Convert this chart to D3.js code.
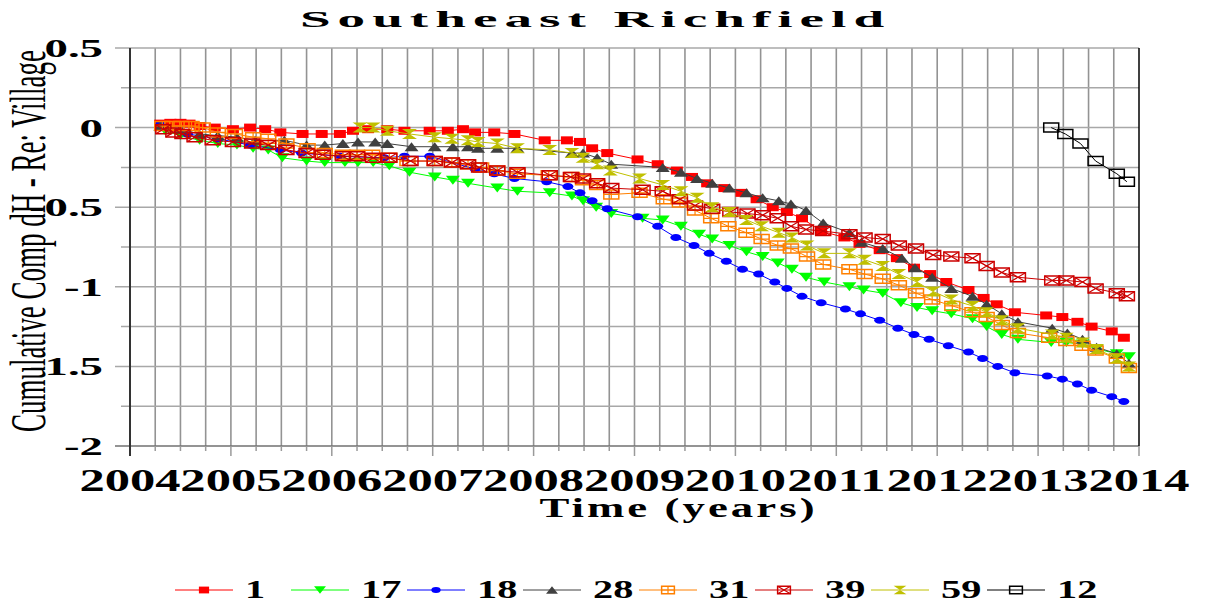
<!DOCTYPE html>
<html>
<head>
<meta charset="utf-8">
<title>Southeast Richfield</title>
<style>
  body { margin: 0; background: #fff; }
  text { font-family: "Liberation Serif", "Times New Roman", serif; }
</style>
</head>
<body>
<script src="https://cdn.jsdelivr.net/npm/d3@7"></script>
<script>
// series data: [year, cumulative dH]
var s1 = [[2004.30,0.025],[2004.40,0.03],[2004.50,0.03],[2004.59,0.025],[2004.69,0.01],[2004.84,0.0],[2005.02,-0.01],[2005.19,0.0],[2005.34,-0.01],[2005.49,-0.03],[2005.71,-0.04],[2005.90,-0.04],[2006.08,-0.04],[2006.21,-0.02],[2006.36,-0.01],[2006.55,-0.01],[2006.72,-0.02],[2006.97,-0.02],[2007.15,-0.02],[2007.30,-0.01],[2007.42,-0.03],[2007.61,-0.03],[2007.81,-0.04],[2008.11,-0.08],[2008.33,-0.08],[2008.46,-0.09],[2008.58,-0.13],[2008.73,-0.16],[2009.03,-0.20],[2009.23,-0.23],[2009.42,-0.27],[2009.57,-0.31],[2009.72,-0.35],[2009.89,-0.38],[2010.06,-0.41],[2010.21,-0.45],[2010.37,-0.50],[2010.51,-0.53],[2010.66,-0.57],[2010.85,-0.65],[2011.08,-0.69],[2011.23,-0.73],[2011.43,-0.77],[2011.60,-0.82],[2011.77,-0.88],[2011.93,-0.92],[2012.09,-0.97],[2012.31,-1.02],[2012.46,-1.07],[2012.59,-1.11],[2012.77,-1.16],[2013.08,-1.18],[2013.24,-1.19],[2013.39,-1.22],[2013.53,-1.25],[2013.73,-1.28],[2013.85,-1.32]];
var s17 = [[2004.35,-0.02],[2004.50,-0.05],[2004.69,-0.08],[2004.87,-0.10],[2005.06,-0.11],[2005.22,-0.13],[2005.37,-0.14],[2005.51,-0.19],[2005.75,-0.21],[2005.93,-0.22],[2006.13,-0.22],[2006.26,-0.22],[2006.41,-0.22],[2006.57,-0.24],[2006.77,-0.28],[2007.02,-0.31],[2007.20,-0.33],[2007.35,-0.35],[2007.64,-0.38],[2007.84,-0.40],[2008.16,-0.41],[2008.38,-0.43],[2008.49,-0.46],[2008.62,-0.50],[2008.77,-0.54],[2009.08,-0.57],[2009.28,-0.58],[2009.46,-0.62],[2009.64,-0.67],[2009.77,-0.70],[2009.94,-0.74],[2010.11,-0.78],[2010.27,-0.81],[2010.42,-0.85],[2010.56,-0.89],[2010.70,-0.94],[2010.88,-0.97],[2011.13,-1.00],[2011.27,-1.02],[2011.46,-1.04],[2011.64,-1.10],[2011.80,-1.13],[2011.95,-1.15],[2012.14,-1.17],[2012.35,-1.20],[2012.49,-1.25],[2012.64,-1.30],[2012.80,-1.33],[2013.13,-1.35],[2013.28,-1.35],[2013.44,-1.36],[2013.58,-1.39],[2013.78,-1.42],[2013.90,-1.44]];
var s18 = [[2004.30,0.02],[2004.57,-0.04],[2004.87,-0.07],[2005.19,-0.11],[2005.49,-0.14],[2005.70,-0.16],[2006.08,-0.18],[2006.52,-0.19],[2006.72,-0.18],[2006.97,-0.18],[2007.42,-0.26],[2007.61,-0.29],[2007.81,-0.32],[2008.13,-0.34],[2008.34,-0.37],[2008.46,-0.41],[2008.58,-0.46],[2008.73,-0.51],[2009.03,-0.56],[2009.23,-0.62],[2009.41,-0.69],[2009.59,-0.74],[2009.74,-0.79],[2009.91,-0.84],[2010.07,-0.89],[2010.23,-0.92],[2010.39,-0.97],[2010.51,-1.01],[2010.66,-1.06],[2010.85,-1.10],[2011.09,-1.14],[2011.24,-1.17],[2011.43,-1.21],[2011.61,-1.26],[2011.77,-1.30],[2011.92,-1.33],[2012.11,-1.37],[2012.31,-1.41],[2012.45,-1.45],[2012.60,-1.50],[2012.77,-1.54],[2013.09,-1.56],[2013.24,-1.58],[2013.39,-1.61],[2013.53,-1.65],[2013.73,-1.69],[2013.85,-1.72]];
var s28 = [[2004.30,0.01],[2004.50,-0.01],[2004.69,-0.04],[2004.87,-0.05],[2005.06,-0.06],[2005.24,-0.08],[2005.53,-0.08],[2005.75,-0.11],[2005.93,-0.11],[2006.11,-0.10],[2006.26,-0.09],[2006.43,-0.09],[2006.55,-0.10],[2006.79,-0.12],[2007.02,-0.12],[2007.20,-0.12],[2007.35,-0.12],[2007.45,-0.13],[2007.64,-0.13],[2007.84,-0.13],[2008.38,-0.16],[2008.49,-0.16],[2008.63,-0.19],[2008.77,-0.23],[2009.28,-0.25],[2009.46,-0.28],[2009.62,-0.32],[2009.77,-0.35],[2009.94,-0.38],[2010.11,-0.41],[2010.27,-0.44],[2010.43,-0.46],[2010.55,-0.48],[2010.70,-0.52],[2010.87,-0.60],[2011.13,-0.66],[2011.25,-0.72],[2011.46,-0.76],[2011.65,-0.82],[2011.78,-0.88],[2011.95,-0.94],[2012.14,-1.01],[2012.35,-1.06],[2012.49,-1.11],[2012.64,-1.17],[2012.80,-1.22],[2013.14,-1.26],[2013.29,-1.29],[2013.44,-1.33],[2013.58,-1.38],[2013.78,-1.42],[2013.90,-1.48]];
var s31 = [[2004.32,0.01],[2004.42,0.01],[2004.51,0.01],[2004.61,0.01],[2004.72,0.0],[2004.87,-0.03],[2005.04,-0.04],[2005.22,-0.06],[2005.37,-0.07],[2005.55,-0.10],[2005.76,-0.13],[2005.93,-0.16],[2006.11,-0.17],[2006.25,-0.17],[2006.40,-0.17],[2006.57,-0.19],[2006.75,-0.21],[2007.02,-0.21],[2007.19,-0.22],[2007.35,-0.23],[2007.48,-0.25],[2007.64,-0.27],[2007.84,-0.29],[2008.15,-0.30],[2008.38,-0.31],[2008.49,-0.33],[2008.63,-0.36],[2008.77,-0.42],[2009.05,-0.41],[2009.29,-0.45],[2009.45,-0.47],[2009.60,-0.52],[2009.76,-0.57],[2009.93,-0.62],[2010.11,-0.66],[2010.26,-0.70],[2010.42,-0.74],[2010.55,-0.76],[2010.71,-0.81],[2010.87,-0.86],[2011.13,-0.89],[2011.28,-0.92],[2011.46,-0.95],[2011.62,-0.99],[2011.79,-1.04],[2011.95,-1.08],[2012.15,-1.12],[2012.35,-1.16],[2012.49,-1.19],[2012.64,-1.24],[2012.80,-1.29],[2013.11,-1.32],[2013.28,-1.34],[2013.44,-1.37],[2013.57,-1.40],[2013.78,-1.45],[2013.90,-1.51]];
var s39 = [[2004.33,-0.01],[2004.43,-0.03],[2004.52,-0.04],[2004.64,-0.06],[2004.82,-0.08],[2005.02,-0.09],[2005.21,-0.10],[2005.37,-0.11],[2005.55,-0.14],[2005.75,-0.16],[2005.91,-0.17],[2006.11,-0.18],[2006.25,-0.18],[2006.41,-0.19],[2006.57,-0.19],[2006.78,-0.21],[2007.02,-0.21],[2007.19,-0.22],[2007.35,-0.23],[2007.46,-0.25],[2007.64,-0.27],[2007.84,-0.28],[2008.16,-0.30],[2008.37,-0.31],[2008.49,-0.32],[2008.63,-0.35],[2008.77,-0.38],[2009.08,-0.39],[2009.28,-0.40],[2009.45,-0.45],[2009.60,-0.49],[2009.77,-0.51],[2009.95,-0.53],[2010.12,-0.54],[2010.27,-0.55],[2010.42,-0.57],[2010.55,-0.62],[2010.70,-0.64],[2010.87,-0.65],[2011.13,-0.67],[2011.28,-0.69],[2011.46,-0.70],[2011.62,-0.74],[2011.79,-0.76],[2011.96,-0.80],[2012.14,-0.81],[2012.35,-0.82],[2012.49,-0.87],[2012.64,-0.91],[2012.80,-0.94],[2013.14,-0.96],[2013.28,-0.96],[2013.44,-0.97],[2013.57,-1.01],[2013.78,-1.04],[2013.88,-1.06]];
var s59 = [[2006.28,0.0],[2006.41,0.0],[2006.55,-0.02],[2006.77,-0.04],[2007.02,-0.06],[2007.19,-0.07],[2007.35,-0.08],[2007.45,-0.09],[2007.64,-0.10],[2007.84,-0.13],[2008.16,-0.14],[2008.38,-0.16],[2008.49,-0.19],[2008.63,-0.23],[2008.76,-0.27],[2009.05,-0.32],[2009.28,-0.36],[2009.46,-0.40],[2009.62,-0.44],[2009.77,-0.50],[2009.94,-0.53],[2010.11,-0.58],[2010.26,-0.62],[2010.43,-0.66],[2010.56,-0.69],[2010.71,-0.74],[2010.88,-0.79],[2011.13,-0.79],[2011.28,-0.83],[2011.46,-0.87],[2011.62,-0.92],[2011.80,-0.97],[2011.96,-1.03],[2012.14,-1.08],[2012.35,-1.12],[2012.49,-1.16],[2012.64,-1.21],[2012.80,-1.26],[2013.14,-1.30],[2013.28,-1.32],[2013.44,-1.35],[2013.58,-1.39],[2013.78,-1.45],[2013.90,-1.50]];
var s12 = [[2013.13,0.0],[2013.27,-0.04],[2013.42,-0.10],[2013.57,-0.21],[2013.78,-0.29],[2013.88,-0.34]];

var names = ["1", "17", "18", "28", "31", "39", "59", "12"];
var seriesData = [s1, s17, s18, s28, s31, s39, s59, s12];
var colors = ["#FF0000", "#00FF00", "#0000FF", "#404040", "#FF8000", "#CC0000", "#C0C000", "#000000"];
var shapes = ["square", "triDown", "circle", "triUp", "boxPlus", "boxX", "hourglass", "box"];
var xTicks = [2004, 2005, 2006, 2007, 2008, 2009, 2010, 2011, 2012, 2013, 2014];
var yTicks = [0.5, 0, -0.5, -1, -1.5, -2];

var W = 1212, H = 606;
var svg = d3.select("body").append("svg").attr("width", W).attr("height", H);

var x = d3.scaleLinear().domain([2004, 2014]).range([130, 1139]);
var y = d3.scaleLinear().domain([-2, 0.5]).range([446, 48]);

// grid
var grid = svg.append("g");
grid.selectAll(".vg").data(d3.range(2004.25, 2014, 0.25)).enter().append("line")
  .attr("x1", function(d) { return x(d); }).attr("x2", function(d) { return x(d); })
  .attr("y1", y(0.5)).attr("y2", y(-2))
  .attr("stroke", "#939393").attr("stroke-width", 1.6);
grid.selectAll(".hg").data(d3.range(-1.75, 0.75, 0.25)).enter().append("line")
  .attr("x1", function(d) { return (Math.abs(d * 2 - Math.round(d * 2)) < 1e-6) ? 115 : 121; })
  .attr("x2", x(2014))
  .attr("y1", function(d) { return y(d); }).attr("y2", function(d) { return y(d); })
  .attr("stroke", "#a8a8a8").attr("stroke-width", 1.5);

// x axis with minor ticks
var xAxisG = svg.append("g").attr("transform", "translate(0," + y(-2) + ")");
xAxisG.append("line").attr("x1", 115).attr("x2", x(2014)).attr("stroke", "#707070").attr("stroke-width", 1.5);
xAxisG.selectAll(".tk").data(d3.range(2004, 2014.01, 0.25)).enter().append("line")
  .attr("x1", function(d) { return x(d); }).attr("x2", function(d) { return x(d); })
  .attr("y1", 0).attr("y2", function(d) { return Math.abs(d - Math.round(d)) < 1e-6 ? 10 : 5; })
  .attr("stroke", "#9a9a9a").attr("stroke-width", 1.5);
xAxisG.selectAll(".lbl").data(xTicks).enter().append("text")
  .attr("transform", function(d) { return "translate(" + x(d) + ",45) scale(1.58,1)"; })
  .attr("text-anchor", "middle").attr("font-size", 32).attr("font-weight", "bold")
  .text(function(d) { return d; });

// y axis
svg.append("line").attr("x1", x(2004)).attr("x2", x(2004)).attr("y1", y(0.5)).attr("y2", y(-2) + 10)
  .attr("stroke", "#333").attr("stroke-width", 2);
svg.append("line").attr("x1", x(2014)).attr("x2", x(2014)).attr("y1", y(0.5)).attr("y2", y(-2))
  .attr("stroke", "#000").attr("stroke-width", 1.5);
svg.selectAll(".ylbl").data(yTicks).enter().append("text")
  .attr("transform", function(d) { return "translate(103," + (y(d) + 9) + ") scale(1.8,1)"; })
  .attr("text-anchor", "end").attr("font-size", 26).attr("font-weight", "bold")
  .text(function(d) { return d; });

// marker shapes
function markerPath(shape, w, h) {
  var a = w / 2, b = h / 2;
  switch (shape) {
    case "square": case "box": case "boxPlus": case "boxX":
      return "M" + (-a) + "," + (-b) + "H" + a + "V" + b + "H" + (-a) + "Z";
    case "triDown": return "M" + (-a) + "," + (-b) + "L" + a + "," + (-b) + "L0," + b + "Z";
    case "triUp": return "M" + (-a) + "," + b + "L" + a + "," + b + "L0," + (-b) + "Z";
    case "hourglass": return "M" + (-a) + "," + (-b) + "L" + a + "," + (-b) + "L" + (-a) + "," + b + "L" + a + "," + b + "Z";
  }
  return "";
}
function drawMarker(g, shape, color, w, h) {
  if (shape === "circle") {
    g.append("ellipse").attr("rx", w / 2).attr("ry", h / 2).attr("fill", color);
    return;
  }
  var filled = (shape === "square" || shape === "triDown" || shape === "triUp" || shape === "hourglass");
  g.append("path").attr("d", markerPath(shape, w, h))
    .attr("fill", filled ? color : "none")
    .attr("stroke", filled ? "none" : color).attr("stroke-width", 1.5);
  var a = w / 2, b = h / 2;
  if (shape === "boxPlus")
    g.append("path").attr("d", "M0," + (-b) + "V" + b + "M" + (-a) + ",0H" + a)
      .attr("stroke", color).attr("stroke-width", 1.2).attr("fill", "none");
  if (shape === "boxX")
    g.append("path").attr("d", "M" + (-a) + "," + (-b) + "L" + a + "," + b + "M" + (-a) + "," + b + "L" + a + "," + (-b))
      .attr("stroke", color).attr("stroke-width", 1.2).attr("fill", "none");
}
var sizes = { square: [12, 8], triDown: [14, 9], circle: [11, 7], triUp: [14, 9], boxPlus: [15, 9], boxX: [15, 9], hourglass: [15, 10], box: [15, 9] };

var line = d3.line().x(function(d) { return x(d[0]); }).y(function(d) { return y(d[1]); });

var plot = svg.append("g");
seriesData.forEach(function(data, i) {
  var g = plot.append("g");
  g.append("path").datum(data).attr("d", line)
    .attr("fill", "none").attr("stroke", colors[i]).attr("stroke-width", 1);
  g.selectAll("g.pt").data(data).enter().append("g")
    .attr("transform", function(d) { return "translate(" + x(d[0]) + "," + y(d[1]) + ")"; })
    .each(function() {
      drawMarker(d3.select(this), shapes[i], colors[i], sizes[shapes[i]][0], sizes[shapes[i]][1]);
    });
});

// titles
svg.append("text").attr("transform", "translate(592,27) scale(2.3,1)")
  .attr("text-anchor", "middle").attr("font-size", 24).attr("font-weight", "bold")
  .attr("textLength", 254).attr("lengthAdjust", "spacing")
  .text("Southeast Richfield");
svg.append("text").attr("transform", "translate(677,517) scale(1.6,1)")
  .attr("text-anchor", "middle").attr("font-size", 28).attr("font-weight", "bold")
  .attr("textLength", 172).attr("lengthAdjust", "spacing")
  .text("Time (years)");
svg.append("text").attr("transform", "translate(45,241) scale(1.85,1) rotate(-90)")
  .attr("text-anchor", "middle").attr("font-size", 27)
  .attr("textLength", 382).attr("lengthAdjust", "spacingAndGlyphs")
  .text("Cumulative Comp dH - Re: Village");

// legend
var legend = svg.append("g");
names.forEach(function(n, i) {
  var x0 = 175 + i * 116;
  var g = legend.append("g").attr("transform", "translate(" + x0 + ",590)");
  g.append("line").attr("x1", 0).attr("x2", 58).attr("stroke", colors[i]).attr("stroke-width", 1);
  var m = g.append("g").attr("transform", "translate(29,0)");
  drawMarker(m, shapes[i], colors[i], sizes[shapes[i]][0] * 0.85, sizes[shapes[i]][1] * 0.85);
  g.append("text").attr("transform", "translate(70,8) scale(1.55,1)")
    .attr("font-size", 26).attr("font-weight", "bold").text(n);
});
</script>
</body>
</html>
